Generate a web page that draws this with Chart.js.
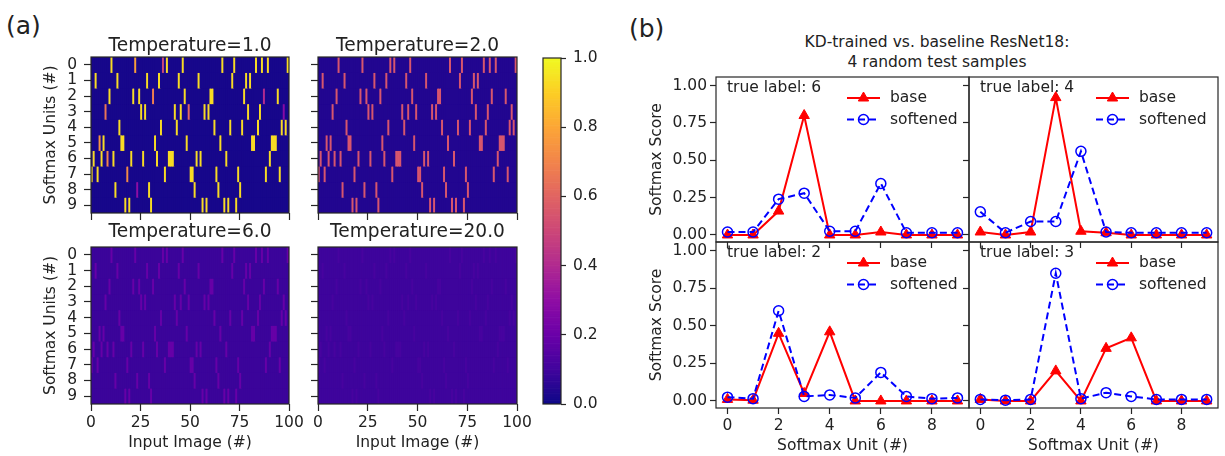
<!DOCTYPE html>
<html>
<head>
<meta charset="utf-8">
<script src="https://cdn.jsdelivr.net/npm/chart.js@4.4.1/dist/chart.umd.min.js"></script>
<style>
  body { margin: 0; background: #fff; width: 1225px; height: 456px; overflow: hidden; font-family: "DejaVu Sans"; }
  canvas { position: absolute; left: 0; top: 0; }
  .lbl { position: absolute; color: #222; white-space: nowrap; }
</style>
</head>
<body>
<div class="lbl" style="left:6px;top:11px;font-size:25px;line-height:30px">(a)</div>
<div class="lbl" style="left:629px;top:14px;font-size:25px;line-height:30px">(b)</div>
<div class="lbl" style="left:737px;top:32px;width:400px;text-align:center;font-size:15.5px;line-height:20px">KD-trained vs. baseline ResNet18:<br>4 random test samples</div>
<canvas id="h0" width="1225" height="456"></canvas>
<canvas id="h1" width="1225" height="456"></canvas>
<canvas id="h2" width="1225" height="456"></canvas>
<canvas id="h3" width="1225" height="456"></canvas>
<canvas id="cbar" width="1225" height="456"></canvas>
<canvas id="s0" width="1225" height="456"></canvas>
<canvas id="s1" width="1225" height="456"></canvas>
<canvas id="s2" width="1225" height="456"></canvas>
<canvas id="s3" width="1225" height="456"></canvas>
<script>
// ---- data (a): heat maps ----
const units = [0, 1, 2, 3, 4, 5, 6, 7, 8, 9];
// unit with the top softmax score for each of the 100 input images
const topUnit = [
  7, 6, 1, 7, 5, 6, 5, 3, 6, 2,
  0, 6, 8, 1, 4, 5, 5, 9, 7, 9,
  6, 2, 0, 8, 2, 3, 6, 3, 1, 8,
  9, 2, 5, 6, 1, 4, 0, 7, 0, 6,
  6, 6, 3, 4, 1, 3, 0, 2, 5, 3,
  7, 7, 8, 6, 1, 6, 9, 3, 9, 3,
  2, 2, 4, 7, 8, 5, 0, 9, 6, 9,
  4, 1, 0, 9, 7, 8, 4, 2, 1, 3,
  1, 5, 5, 0, 4, 3, 0, 2, 7, 0,
  6, 5, 5, 5, 2, 7, 4, 3, 4, 0
];
const temperatures = ["1.0", "2.0", "6.0", "20.0"];
const peakScore = [0.93, 0.55, 0.19, 0.115];
const restScore = [0.02, 0.04, 0.088, 0.095];
// images whose top score is not saturated at T=1: [image, score]
const softPeaks = [[4, 0.75], [7, 0.65], [8, 0.7], [18, 0.72], [22, 0.78], [23, 0.3],
  [31, 0.68], [36, 0.5], [49, 0.62], [87, 0.4], [97, 0.28]];
const colorbarTicks = [0, 0.2, 0.4, 0.6, 0.8, 1.0];
const imageTicks = [0, 25, 50, 75, 100];

// ---- data (b): softmax scores ----
const softmaxUnits = [0, 1, 2, 3, 4, 5, 6, 7, 8, 9];
const trueLabels = [6, 4, 2, 3];
const baseScores = [
  [0.0, 0.0, 0.16, 0.80, 0.0, 0.0, 0.02, 0.0, 0.0, 0.0],
  [0.02, 0.0, 0.02, 0.92, 0.025, 0.015, 0.0, 0.0, 0.0, 0.0],
  [0.01, 0.005, 0.45, 0.05, 0.46, 0.0, 0.0, 0.0, 0.0, 0.0],
  [0.01, 0.0, 0.0, 0.20, 0.0, 0.35, 0.42, 0.0, 0.0, 0.0]
];
const softenedScores = [
  [0.02, 0.02, 0.24, 0.28, 0.025, 0.025, 0.345, 0.015, 0.015, 0.015],
  [0.155, 0.015, 0.09, 0.09, 0.56, 0.02, 0.015, 0.015, 0.015, 0.015],
  [0.025, 0.015, 0.60, 0.03, 0.04, 0.02, 0.19, 0.03, 0.015, 0.02],
  [0.01, 0.005, 0.01, 0.85, 0.015, 0.055, 0.03, 0.01, 0.01, 0.01]
];
const scoreTicks = [0, 0.25, 0.5, 0.75, 1.0];
const unitTicks = [0, 2, 4, 6, 8];

// ---- helpers ----
const W = 1225, H = 456;
const INK = "#222";
const FONT = { family: "DejaVu Sans", size: 15.5 };
Chart.defaults.font.family = "DejaVu Sans";
Chart.defaults.color = INK;

const plasmaStops = ["#0d0887", "#41049d", "#6a00a8", "#8f0da4", "#b12a90", "#cc4778",
  "#e16462", "#f2844b", "#fca636", "#fcce25", "#f0f921"];
function plasma(v) {
  v = Math.max(0, Math.min(1, v)) * 10;
  const i = Math.min(9, Math.floor(v)), f = v - i;
  const a = plasmaStops[i], b = plasmaStops[i + 1];
  const ch = (s, k) => parseInt(s.substr(1 + 2 * k, 2), 16);
  const c = [0, 1, 2].map(k => Math.round(ch(a, k) + (ch(b, k) - ch(a, k)) * f));
  return `rgb(${c[0]},${c[1]},${c[2]})`;
}

// frame round the plot area, optional background and text notes
const frame = {
  id: "frame",
  beforeDatasetsDraw(chart, args, opts) {
    if (!opts.fill) return;
    const { ctx, chartArea: a } = chart;
    ctx.save();
    ctx.fillStyle = opts.fill;
    ctx.fillRect(a.left, a.top, a.width, a.height);
    ctx.restore();
  },
  afterDraw(chart, args, opts) {
    const { ctx, chartArea: a } = chart;
    ctx.save();
    ctx.strokeStyle = "#262626";
    ctx.lineWidth = 1.2;
    ctx.strokeRect(a.left, a.top, a.width, a.height);
    ctx.fillStyle = INK;
    ctx.textBaseline = "middle";
    (opts.notes || []).forEach(n => {
      ctx.font = `${n.size}px "DejaVu Sans"`;
      ctx.textAlign = n.center ? "center" : "left";
      const x = n.center ? (a.left + a.right) / 2 : a.left + n.dx;
      ctx.fillText(n.text, x, a.top + n.dy);
    });
    // matplotlib style legend in the upper right corner
    if (opts.legend) {
      chart.data.datasets.forEach((ds, i) => {
        const y = a.top + 21 + i * 21.5;
        const x0 = a.right - 122, x1 = a.right - 89;
        ctx.strokeStyle = ds.borderColor;
        ctx.lineWidth = ds.borderWidth;
        ctx.setLineDash(ds.borderDash || []);
        ctx.beginPath(); ctx.moveTo(x0, y); ctx.lineTo(x1, y); ctx.stroke();
        ctx.setLineDash([]);
        ctx.fillStyle = ds.pointBackgroundColor;
        ctx.lineWidth = ds.pointBorderWidth;
        Chart.helpers.drawPoint(ctx, { pointStyle: ds.pointStyle, rotation: 0,
          radius: ds.pointRadius, borderWidth: ds.pointBorderWidth }, (x0 + x1) / 2, y);
        ctx.fillStyle = INK;
        ctx.font = '15.5px "DejaVu Sans"';
        ctx.textAlign = "left";
        ctx.fillText(ds.label, a.right - 79, y);
      });
    }
    ctx.restore();
  },
  defaults: {}
};
Chart.register(frame);

function tickGrid(len) {
  return { drawOnChartArea: false, drawTicks: true, tickLength: len, tickColor: "#262626",
    tickWidth: 1.2, offset: false };
}

function cellScore(k, u, c) {
  if (topUnit[c] !== u) return restScore[k];
  if (k === 0) {
    const s = softPeaks.find(p => p[0] === c);
    if (s) return s[1];
  }
  return peakScore[k];
}

function heatmap(id, k, area, showY, showX) {
  const yW = 49, xH = showX ? 48 : 12;
  const datasets = units.map(u => ({
    data: topUnit.map((t, c) => ({ x: c + 0.5, y: [u, u + 1] })),
    backgroundColor: topUnit.map((t, c) => plasma(cellScore(k, u, c))),
    borderWidth: 0,
    grouped: false,
    categoryPercentage: 1,
    barPercentage: 1
  }));
  new Chart(document.getElementById(id), {
    type: "bar",
    data: { datasets },
    options: {
      responsive: false, animation: false, events: [],
      layout: { padding: { left: area.l - yW, top: area.t, right: W - area.r, bottom: H - area.b - xH } },
      plugins: {
        legend: { display: false }, tooltip: { enabled: false },
        frame: { fill: plasma(restScore[k]),
          notes: [{ text: "Temperature=" + temperatures[k], center: true, dy: area.titleDy, size: 18.6 }] }
      },
      scales: {
        x: {
          type: "linear", min: 0, max: 100, offset: false,
          afterBuildTicks: s => { s.ticks = imageTicks.map(v => ({ value: v })); },
          ticks: { display: showX, font: FONT, padding: 3, maxRotation: 0, autoSkip: false },
          grid: tickGrid(7), border: { display: false },
          title: { display: showX, text: "Input Image (#)", font: FONT, padding: 0 },
          afterFit: s => { s.height = xH; }
        },
        y: {
          type: "linear", min: 0, max: 10, reverse: true,
          afterBuildTicks: s => { s.ticks = units.map(u => ({ value: u + 0.5 })); },
          ticks: { display: showY, font: FONT, padding: 7, autoSkip: false, callback: v => String(v - 0.5) },
          grid: tickGrid(7), border: { display: false },
          title: { display: showY, text: "Softmax Units (#)", font: FONT, padding: 0 },
          afterFit: s => { s.width = yW; }
        }
      }
    }
  });
}

heatmap("h0", 0, { l: 91, r: 289, t: 57, b: 213, titleDy: -10.5 }, true, false);
heatmap("h1", 1, { l: 318, r: 517, t: 57, b: 213, titleDy: -10.5 }, false, false);
heatmap("h2", 2, { l: 91, r: 289, t: 247, b: 404, titleDy: -15 }, true, true);
heatmap("h3", 3, { l: 318, r: 517, t: 247, b: 404, titleDy: -15 }, false, true);

// colour bar
const cbLevels = [];
for (let i = 0; i < 200; i++) cbLevels.push(i / 200);
new Chart(document.getElementById("cbar"), {
  type: "bar",
  data: {
    datasets: [{
      data: cbLevels.map(v => ({ y: v + 0.0025, x: [0, 1] })),
      backgroundColor: cbLevels.map(v => plasma(v + 0.0025)),
      borderWidth: 0, categoryPercentage: 1, barPercentage: 1
    }]
  },
  options: {
    indexAxis: "y",
    responsive: false, animation: false, events: [],
    layout: { padding: { left: 543, top: 58, right: W - 561 - 40, bottom: H - 404 } },
    plugins: { legend: { display: false }, tooltip: { enabled: false }, frame: {} },
    scales: {
      x: { type: "linear", min: 0, max: 1, display: false },
      y: {
        type: "linear", position: "right", min: 0, max: 1, offset: false,
        afterBuildTicks: s => { s.ticks = colorbarTicks.map(v => ({ value: v })); },
        ticks: { font: FONT, padding: 7, autoSkip: false, callback: v => v.toFixed(1) },
        grid: tickGrid(5), border: { display: false },
        afterFit: s => { s.width = 40; }
      }
    }
  }
});

// score panels
function scorePanel(id, k, area, showY, showX) {
  const yW = showY ? 68 : 10, xH = showX ? 47 : 10;
  new Chart(document.getElementById(id), {
    type: "line",
    data: {
      datasets: [
        {
          label: "base", order: 1,
          data: softmaxUnits.map((u, i) => ({ x: u, y: baseScores[k][i] })),
          borderColor: "#ff0000", borderWidth: 2, tension: 0,
          pointStyle: "triangle", pointRadius: 6, pointBorderWidth: 1,
          pointBackgroundColor: "#ff0000", pointBorderColor: "#ff0000"
        },
        {
          label: "softened", order: 0,
          data: softmaxUnits.map((u, i) => ({ x: u, y: softenedScores[k][i] })),
          borderColor: "#0000ff", borderWidth: 2, borderDash: [7, 4], tension: 0,
          pointStyle: "circle", pointRadius: 5, pointBorderWidth: 1.5,
          pointBackgroundColor: "rgba(0,0,0,0)", pointBorderColor: "#0000ff"
        }
      ]
    },
    options: {
      responsive: false, animation: false, events: [],
      layout: { padding: { left: area.l - yW, top: area.t, right: W - area.r, bottom: H - area.b - xH } },
      plugins: {
        legend: { display: false }, tooltip: { enabled: false },
        frame: { legend: true, notes: [{ text: "true label: " + trueLabels[k], dx: 11, dy: 11, size: 15.5 }] }
      },
      scales: {
        x: {
          type: "linear", min: -0.45, max: 9.45,
          afterBuildTicks: s => { s.ticks = unitTicks.map(v => ({ value: v })); },
          ticks: { display: showX, font: FONT, padding: 3, maxRotation: 0, autoSkip: false },
          grid: tickGrid(6), border: { display: false },
          title: { display: showX, text: "Softmax Unit (#)", font: FONT, padding: 0 },
          afterFit: s => { s.height = xH; }
        },
        y: {
          type: "linear", min: -0.047, max: 1.058,
          afterBuildTicks: s => { s.ticks = scoreTicks.map(v => ({ value: v })); },
          ticks: { display: showY, font: FONT, padding: 3, autoSkip: false, callback: v => v.toFixed(2) },
          grid: tickGrid(6), border: { display: false },
          title: { display: showY, text: "Softmax Score", font: FONT, padding: 0 },
          afterFit: s => { s.width = yW; }
        }
      }
    }
  });
}

scorePanel("s0", 0, { l: 716, r: 969, t: 77, b: 242 }, true, false);
scorePanel("s1", 1, { l: 969, r: 1219, t: 77, b: 242 }, false, false);
scorePanel("s2", 2, { l: 716, r: 969, t: 242, b: 408 }, true, true);
scorePanel("s3", 3, { l: 969, r: 1219, t: 242, b: 408 }, false, true);
</script>
</body>
</html>
